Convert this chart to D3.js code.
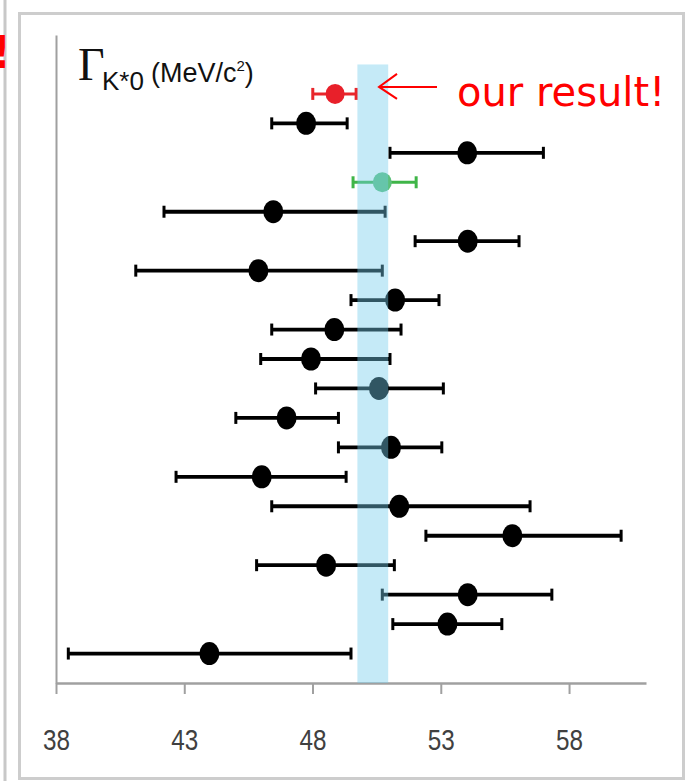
<!DOCTYPE html>
<html>
<head>
<meta charset="utf-8">
<script src="https://cdn.jsdelivr.net/npm/d3@7"></script>
<style>
  html, body { margin: 0; padding: 0; background: #ffffff; }
  svg { display: block; }
</style>
</head>
<body>
<svg id="chart" width="686" height="781"></svg>
<script>
// ---- data ----
const labels  = ["our result", "m2", "m3", "world average", "m5", "m6", "m7", "m8", "m9", "m10",
                 "m11", "m12", "m13", "m14", "m15", "m16", "m17", "m18", "m19", "m20"];
const kinds   = ["ours", "other", "other", "avg", "other", "other", "other", "other", "other", "other",
                 "other", "other", "other", "other", "other", "other", "other", "other", "other", "other"];
const centers = [48.88, 47.75, 54.03, 50.72, 46.47, 54.05, 45.89, 51.22, 48.85, 47.94,
                 50.59, 46.99, 51.06, 46.02, 51.38, 55.79, 48.53, 54.05, 53.26, 43.98];
const lows    = [48.01, 46.41, 51.02, 49.58, 42.21, 52.00, 41.11, 49.50, 46.41, 45.98,
                 48.12, 45.01, 49.01, 42.68, 46.41, 52.42, 45.82, 50.72, 51.13, 38.48];
const highs   = [49.70, 49.35, 57.00, 52.04, 50.83, 56.05, 50.72, 52.93, 51.45, 51.02,
                 53.10, 49.01, 53.04, 49.31, 56.48, 60.03, 51.19, 57.33, 55.38, 49.50];
const xTicks  = [38, 43, 48, 53, 58];
const bandRange = [49.75, 50.95];
const xDomain = [38, 61];
const yDomain = [0, 22];
const bandTop = 21;

const colors = {
  ours:  { line: "#e8262b", fill: "#e8202a" },
  avg:   { line: "#3fb548", fill: "#5cc07a" },
  other: { line: "#000000", fill: "#000000" }
};

const svg = d3.select("#chart");

// frame and left strip (from the slide it was cut from)
svg.append("line").attr("x1", 5).attr("x2", 5).attr("y1", 0).attr("y2", 781)
  .attr("stroke", "#c8c8c8").attr("stroke-width", 3);
svg.append("text").attr("x", -9).attr("y", 68)
  .attr("font-family", "DejaVu Sans, sans-serif").attr("font-weight", "bold")
  .attr("font-size", 44).attr("fill", "#ff0000").text("!");
svg.append("rect").attr("x", 19.5).attr("y", 13.5).attr("width", 664).attr("height", 765)
  .attr("fill", "none").attr("stroke", "#cdcdcd").attr("stroke-width", 3);

const x = d3.scaleLinear().domain(xDomain).range([56, 646]);
const y = d3.scaleLinear().domain(yDomain).range([683, 35]);
const n = centers.length;
const rowVal = i => n - i;

// axes
const xAxis = svg.append("g").attr("transform", `translate(0,${y(0)})`)
  .call(d3.axisBottom(x).tickValues(xTicks).tickFormat(d3.format("d")).tickSize(11).tickSizeOuter(0));
xAxis.select(".domain").attr("stroke", "#a0a0a0").attr("stroke-width", 2.5);
xAxis.selectAll(".tick line").attr("stroke", "#a0a0a0").attr("stroke-width", 2);
xAxis.selectAll(".tick text")
  .attr("font-family", "'Liberation Sans Narrow', 'Arial Narrow', 'Liberation Sans', sans-serif")
  .attr("font-size", 30).attr("fill", "#404040").attr("dy", 0).attr("y", 67)
  .attr("transform", "scale(0.9,1)")
  .attr("x", d => 0);
// compensate horizontal scale so labels stay centred on ticks
xAxis.selectAll(".tick text").attr("transform", null).attr("textLength", 27).attr("lengthAdjust", "spacingAndGlyphs");

const yAxis = svg.append("g").attr("transform", `translate(${x(xDomain[0])},0)`)
  .call(d3.axisLeft(y).tickValues([]).tickSizeOuter(0));
yAxis.select(".domain").attr("stroke", "#a0a0a0").attr("stroke-width", 2);

// error bars
const g = svg.append("g");
centers.forEach((c, i) => {
  const col = colors[kinds[i]];
  const yy = y(rowVal(i));
  const w = kinds[i] === "other" ? 3.8 : 3;
  g.append("line").attr("x1", x(lows[i])).attr("x2", x(highs[i])).attr("y1", yy).attr("y2", yy)
    .attr("stroke", col.line).attr("stroke-width", w);
  [lows[i], highs[i]].forEach(v => {
    g.append("line").attr("x1", x(v)).attr("x2", x(v)).attr("y1", yy - 6).attr("y2", yy + 6)
      .attr("stroke", col.line).attr("stroke-width", 3);
  });
  g.append("ellipse").attr("cx", x(c)).attr("cy", yy)
    .attr("rx", kinds[i] === "other" ? 10 : 9.5).attr("ry", kinds[i] === "other" ? 11.5 : 10)
    .attr("fill", col.fill);
});

// translucent band on top
svg.append("rect")
  .attr("x", x(bandRange[0])).attr("width", x(bandRange[1]) - x(bandRange[0]))
  .attr("y", y(bandTop)).attr("height", y(0) - y(bandTop))
  .attr("fill", "rgb(116,205,235)").attr("fill-opacity", 0.42);

// title
const t = svg.append("text").attr("x", 78).attr("y", 80).attr("fill", "#111");
t.append("tspan").attr("font-family", "'Liberation Serif', 'Times New Roman', serif")
  .attr("font-size", 46).text("Γ");
t.append("tspan").attr("font-family", "'Liberation Sans', sans-serif").attr("font-size", 26)
  .attr("x", 102).attr("y", 90).text("K*0");
t.append("tspan").attr("font-family", "'Liberation Sans', sans-serif").attr("font-size", 27)
  .attr("x", 151).attr("y", 82).text("(MeV/c");
t.append("tspan").attr("font-family", "'Liberation Sans', sans-serif").attr("font-size", 15)
  .attr("dy", -11).text("2");
t.append("tspan").attr("font-family", "'Liberation Sans', sans-serif").attr("font-size", 27)
  .attr("dy", 11).text(")");

// arrow + annotation
const ay = y(rowVal(0)) - 7;
svg.append("path")
  .attr("d", `M437,${ay} L379,${ay} M397,${ay - 13} L379,${ay} L397,${ay + 12}`)
  .attr("fill", "none").attr("stroke", "#ff0000").attr("stroke-width", 2);
svg.append("text").attr("x", 457).attr("y", 106)
  .attr("font-family", "'DejaVu Sans', sans-serif").attr("font-size", 40)
  .attr("fill", "#ff0000").text("our result!");
</script>
</body>
</html>
